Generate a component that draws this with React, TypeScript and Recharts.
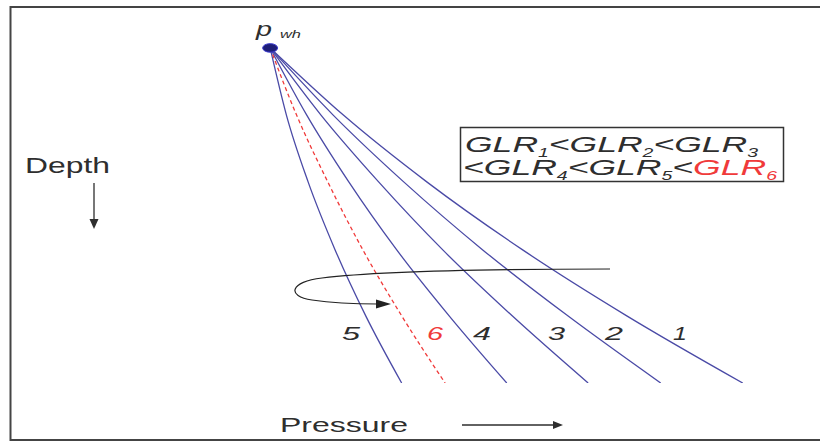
import React from 'react';
import { LineChart, Line, XAxis, YAxis, ReferenceDot } from 'recharts';

// Depth levels (0 = top of the depth axis, 100 = bottom), shared by every traverse
const depthLevels = [8.7, 27.0, 45.2, 63.8, 81.7, 100];

// Flowing pressure at each depth level, one array per gas-liquid ratio
const pressureGLR1 = [18.9, 29.7, 42.0, 56.2, 71.5, 88.6];
const pressureGLR2 = [18.9, 28.2, 38.6, 50.3, 62.8, 76.5];
const pressureGLR3 = [18.9, 26.4, 34.9, 44.4, 54.6, 65.8];
const pressureGLR4 = [18.9, 24.3, 30.5, 37.6, 45.3, 53.8];
const pressureGLR5 = [18.9, 21.3, 24.5, 28.5, 33.0, 38.3];
const pressureGLR6 = [18.9, 22.8, 27.4, 32.6, 38.3, 44.7];

// Wellhead pressure point
const wellheadPressure = 18.9;
const wellheadDepth = 8.7;

const BLUE = '#4a4aa6';
const RED = '#f03a3a';
const INK = '#2e2e2e';
const FONT = '"Liberation Sans", Arial, sans-serif';

const toSeries = (pressures: number[]) =>
  pressures.map((p, i) => ({ p, d: depthLevels[i] }));

const blueCurves = [
  { name: '1', data: toSeries(pressureGLR1) },
  { name: '2', data: toSeries(pressureGLR2) },
  { name: '3', data: toSeries(pressureGLR3) },
  { name: '4', data: toSeries(pressureGLR4) },
  { name: '5', data: toSeries(pressureGLR5) },
];
const redCurve = { name: '6', data: toSeries(pressureGLR6) };

// Curve number labels: text, left edge, width, colour
const curveLabels = [
  { text: '5', x: 342, w: 18, color: INK },
  { text: '6', x: 427, w: 16, color: RED },
  { text: '4', x: 473, w: 18, color: INK },
  { text: '3', x: 548, w: 17, color: INK },
  { text: '2', x: 605, w: 18, color: INK },
  { text: '1', x: 673, w: 14, color: INK },
];

const WellheadDot = (props: any) => (
  <ellipse
    cx={props.cx}
    cy={props.cy}
    rx={7.5}
    ry={4.3}
    fill="#1e1e78"
    stroke="#3b3bd0"
    strokeWidth={1}
  />
);

const Overlay = () => (
  <svg
    width={820}
    height={441}
    style={{ position: 'absolute', left: 0, top: 0, pointerEvents: 'none' }}
  >
    {/* outer frame */}
    <path d="M 824 7 H 10.5 V 440 H 824" fill="none" stroke="#444" strokeWidth={2} />

    {/* wellhead pressure label */}
    <text x={256} y={36} fontFamily={FONT} fontStyle="italic" fontSize={21} fill={INK}
      textLength={16} lengthAdjust="spacingAndGlyphs">p</text>
    <text x={280} y={38} fontFamily={FONT} fontStyle="italic" fontSize={11} fill={INK}
      textLength={21} lengthAdjust="spacingAndGlyphs">wh</text>

    {/* depth axis title and arrow */}
    <text x={25} y={173} fontFamily={FONT} fontSize={22} fill={INK}
      textLength={85} lengthAdjust="spacingAndGlyphs">Depth</text>
    <line x1={94} y1={183} x2={94} y2={222} stroke={INK} strokeWidth={1.3} />
    <polygon points="94,229 89.5,219 98.5,219" fill={INK} />

    {/* pressure axis title and arrow */}
    <text x={280} y={432} fontFamily={FONT} fontSize={20} fill={INK}
      textLength={128} lengthAdjust="spacingAndGlyphs">Pressure</text>
    <line x1={462} y1={425} x2={555} y2={425} stroke={INK} strokeWidth={1.3} />
    <polygon points="563,425 553,421 553,429" fill={INK} />

    {/* GLR ordering box */}
    <rect x={460.5} y={127.5} width={323} height={54} fill="#fff" stroke="#333" strokeWidth={1.5} />
    <text x={465} y={152} fontFamily={FONT} fontStyle="italic" fontSize={22} fill={INK}
      textLength={293} lengthAdjust="spacingAndGlyphs">
      GLR<tspan fontSize={12} dy={5}>1</tspan>
      <tspan dy={-5}>&lt;GLR</tspan><tspan fontSize={12} dy={5}>2</tspan>
      <tspan dy={-5}>&lt;GLR</tspan><tspan fontSize={12} dy={5}>3</tspan>
    </text>
    <text x={463} y={175} fontFamily={FONT} fontStyle="italic" fontSize={22} fill={INK}
      textLength={314} lengthAdjust="spacingAndGlyphs">
      &lt;GLR<tspan fontSize={12} dy={5}>4</tspan>
      <tspan dy={-5}>&lt;GLR</tspan><tspan fontSize={12} dy={5}>5</tspan>
      <tspan dy={-5}>&lt;</tspan><tspan fill={RED}>GLR</tspan><tspan fontSize={12} dy={5} fill={RED}>6</tspan>
    </text>

    {/* increasing-GLR turning arrow */}
    <path
      d="M 610 269 C 480 269, 370 272, 322 278 C 290 282, 286 296, 312 300 C 332 303, 352 304, 378 304"
      fill="none"
      stroke="#222"
      strokeWidth={1.2}
    />
    <polygon points="391,304 376,299.5 376,308.5" fill="#222" />

    {/* curve numbers */}
    {curveLabels.map((l) => (
      <text key={l.text} x={l.x} y={340} fontFamily={FONT} fontStyle="italic" fontSize={18}
        fill={l.color} textLength={l.w} lengthAdjust="spacingAndGlyphs">{l.text}</text>
    ))}
  </svg>
);

export default function App() {
  return (
    <div style={{ position: 'absolute', left: 0, top: 0, width: 820, height: 441, background: '#fff' }}>
      <LineChart width={820} height={441} margin={{ top: 16, right: 0, bottom: 58, left: 142 }}>
        <XAxis
          type="number"
          dataKey="p"
          domain={[0, 100]}
          allowDataOverflow
          height={0}
          tick={false}
          tickLine={false}
          axisLine={{ stroke: '#333', strokeWidth: 1.6 }}
        />
        <YAxis
          type="number"
          dataKey="d"
          domain={[0, 100]}
          reversed
          allowDataOverflow
          width={0}
          tick={false}
          tickLine={false}
          axisLine={{ stroke: '#333', strokeWidth: 1.6 }}
        />
        {blueCurves.map((c) => (
          <Line
            key={c.name}
            name={c.name}
            data={c.data}
            dataKey="d"
            type="monotone"
            stroke={BLUE}
            strokeWidth={1.3}
            dot={false}
            isAnimationActive={false}
          />
        ))}
        <Line
          name={redCurve.name}
          data={redCurve.data}
          dataKey="d"
          type="monotone"
          stroke={RED}
          strokeWidth={1.3}
          strokeDasharray="4 3"
          dot={false}
          isAnimationActive={false}
        />
        <ReferenceDot
          x={wellheadPressure}
          y={wellheadDepth}
          r={6}
          ifOverflow="visible"
          shape={WellheadDot}
        />
      </LineChart>
      <Overlay />
    </div>
  );
}
